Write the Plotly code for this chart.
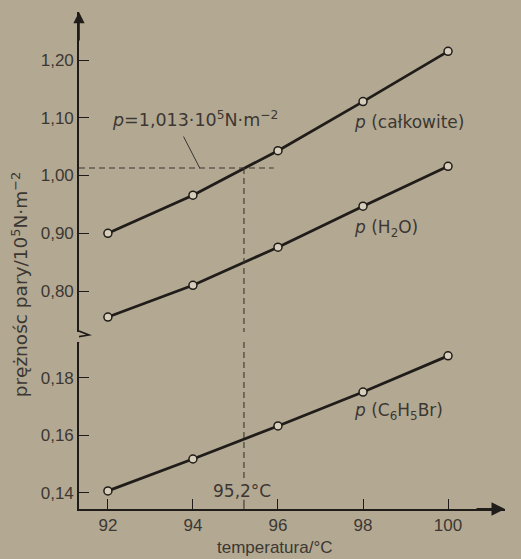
import plotly.graph_objects as go

# ---- data ----
temps = [92, 94, 96, 98, 100]
p_total = [0.900, 0.966, 1.043, 1.128, 1.215]
p_h2o = [0.755, 0.810, 0.876, 0.947, 1.016]
p_c6h5br = [0.1407, 0.1518, 0.1633, 0.1751, 0.1877]
p_atm = 1.013
t_boil = 95.2
x_ticks = [92, 94, 96, 98, 100]
y_upper_ticks = [0.80, 0.90, 1.00, 1.10, 1.20]
y_lower_ticks = [0.14, 0.16, 0.18]

# ---- layout constants ----
BG = "#b3a993"
INK = "#201c19"
TXT = "#3c3732"
X_RANGE = [91.32, 101.34]
Y_LOW_RANGE = [0.1344, 0.19252]
Y_UP_RANGE = [0.729, 1.2831]

line_style = dict(color=INK, width=2.8)
marker_style = dict(symbol="circle", size=8, color="#d6cdbb",
                    line=dict(color=INK, width=1.5))
dash_style = dict(color="#3a342e", width=1.1, dash="6px,4px")

fig = go.Figure()

# series
fig.add_trace(go.Scatter(x=temps, y=p_total, yaxis="y2", mode="lines+markers",
                         line=line_style, marker=marker_style, showlegend=False))
fig.add_trace(go.Scatter(x=temps, y=p_h2o, yaxis="y2", mode="lines+markers",
                         line=line_style, marker=marker_style, showlegend=False))
fig.add_trace(go.Scatter(x=temps, y=p_c6h5br, yaxis="y", mode="lines+markers",
                         line=line_style, marker=marker_style, showlegend=False))

# reference dashed lines
fig.add_trace(go.Scatter(x=[X_RANGE[0], 95.9], y=[p_atm, p_atm], yaxis="y2",
                         mode="lines", line=dash_style, showlegend=False))
fig.add_trace(go.Scatter(x=[t_boil, t_boil], y=[p_atm, Y_UP_RANGE[0]], yaxis="y2",
                         mode="lines", line=dash_style, showlegend=False))
fig.add_trace(go.Scatter(x=[t_boil, t_boil], y=[Y_LOW_RANGE[1], 0.1452], yaxis="y",
                         mode="lines", line=dash_style, showlegend=False))
fig.add_trace(go.Scatter(x=[t_boil, t_boil], y=[Y_LOW_RANGE[0], 0.1376], yaxis="y",
                         mode="lines", line=dict(color="#3a342e", width=1.1),
                         showlegend=False))

tickfont = dict(family="Liberation Sans, Arial, sans-serif", size=17, color=TXT)
lblfont = dict(family="DejaVu Sans, sans-serif", size=17, color=TXT)

fig.update_layout(
    width=521, height=559,
    margin=dict(l=79, r=16, t=12, b=50),
    paper_bgcolor=BG, plot_bgcolor=BG,
    separators=", ",
    hovermode=False,
    xaxis=dict(range=X_RANGE, tickvals=x_ticks, ticks="inside", ticklen=10,
               tickwidth=1.3, tickcolor=INK, showline=True, linecolor=INK,
               linewidth=1.8, showgrid=False, zeroline=False, tickfont=tickfont,
               anchor="y", automargin=False),
    yaxis=dict(domain=[0, 0.336], range=Y_LOW_RANGE, tickvals=y_lower_ticks,
               tickformat=".2f", ticks="inside", ticklen=10, tickwidth=1.3,
               tickcolor=INK, showline=True, linecolor=INK, linewidth=1.6,
               showgrid=False, zeroline=False, tickfont=tickfont, anchor="x",
               automargin=False),
    yaxis2=dict(domain=[0.356, 1], range=Y_UP_RANGE, tickvals=y_upper_ticks,
                tickformat=".2f", ticks="inside", ticklen=10, tickwidth=1.3,
                tickcolor=INK, showline=True, linecolor=INK, linewidth=1.6,
                showgrid=False, zeroline=False, tickfont=tickfont, anchor="x",
                automargin=False),
)

# axis break zigzag
fig.add_shape(type="path", xref="x", yref="paper", xsizemode="pixel",
              ysizemode="pixel", xanchor=X_RANGE[0], yanchor=0.346,
              path="M0,6 L10,2 L-9,-1 L0,-6",
              line=dict(color=INK, width=1.6))

annotations = [
    # axis arrows
    dict(x=X_RANGE[1], y=Y_LOW_RANGE[0], xref="x", yref="y", ax=-30, ay=0,
         text="", showarrow=True, arrowhead=2, arrowsize=1.5, arrowwidth=1.8,
         arrowcolor=INK),
    dict(x=X_RANGE[0], y=Y_UP_RANGE[1], xref="x", yref="y2", ax=0, ay=30,
         text="", showarrow=True, arrowhead=2, arrowsize=1.4, arrowwidth=1.6,
         arrowcolor=INK),
    # leader line for p label
    dict(x=94.16, y=p_atm, xref="x", yref="y2", ax=-17, ay=-33, text="",
         showarrow=True, arrowhead=0, arrowwidth=1.0, arrowcolor="#3a342e"),
    dict(x=94.05, y=1.098, xref="x", yref="y2",
         text="<i>p</i>=1,013·10<sup>5</sup>N·m<sup>−2</sup>",
         showarrow=False, font=dict(family="DejaVu Sans, sans-serif", size=17.5,
                                    color=TXT)),
    dict(x=97.74, y=1.092, xref="x", yref="y2", xanchor="left",
         text="<i>p</i> (całkowite)", showarrow=False, font=lblfont),
    dict(x=97.74, y=0.909, xref="x", yref="y2", xanchor="left",
         text="<i>p</i> (H<sub>2</sub>O)", showarrow=False, font=lblfont),
    dict(x=97.74, y=0.1682, xref="x", yref="y", xanchor="left",
         text="<i>p</i> (C<sub>6</sub>H<sub>5</sub>Br)", showarrow=False,
         font=lblfont),
    dict(x=95.15, y=0.1407, xref="x", yref="y", text="95,2°C",
         showarrow=False, font=lblfont),
    # axis titles
    dict(x=95.93, y=-0.0765, xref="x", yref="paper", text="temperatura/°C",
         showarrow=False, xanchor="center", yanchor="middle",
         font=dict(family="Liberation Sans, Arial, sans-serif", size=17,
                   color=TXT)),
    dict(x=-0.1385, y=0.452, xref="paper", yref="paper", textangle=-90,
         xanchor="center", yanchor="middle",
         text="prężnośc pary/10<sup>5</sup>N·m<sup>−2</sup>",
         showarrow=False, font=dict(family="DejaVu Sans, sans-serif", size=18.5,
                                    color=TXT)),
]
fig.update_layout(annotations=annotations)

fig.write_html("out.html", config={"displayModeBar": False},
               post_script="document.body.style.margin='0';"
                           "document.body.style.overflow='hidden';")
